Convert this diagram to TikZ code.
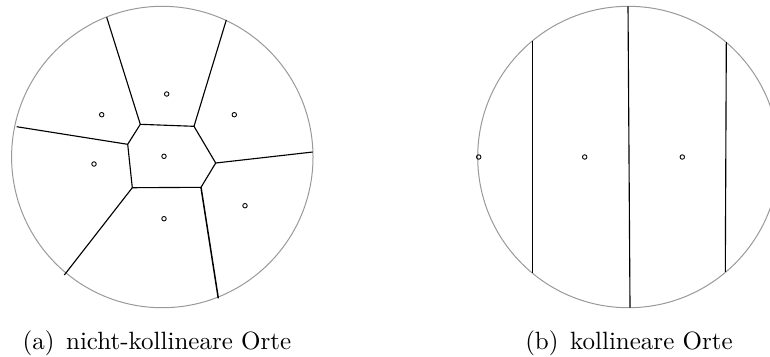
\documentclass[tikz,border=0pt]{standalone}
\begin{document}
\begin{tikzpicture}[x=0.4pt, y=-0.4pt,
	ort/.style={draw, circle, inner sep=0pt, minimum size=1.8pt, line width=0.35pt},
	rand/.style={draw=black!40, line width=0.4pt},
	kante/.style={line width=0.45pt}]
			\useasboundingbox (0,0) rectangle (770,356);
			%Kreise
			\draw[rand] (162.3,157) circle (60.28pt);
			\draw[rand] (628.4,157) circle (60.28pt);
			%Orte links
			\node[ort] (L1) at (166.7,94) {};
			\node[ort] (L2) at (101.7,114.7) {};
			\node[ort] (L3) at (234.3,114.7) {};
			\node[ort] (L4) at (164,156.3) {};
			\node[ort] (L5) at (94,164) {};
			\node[ort] (L6) at (245,205.7) {};
			\node[ort] (L7) at (164,218.7) {};
			%Voronoi-Knoten
			\coordinate (VA) at (140.3,124.3);
			\coordinate (VB) at (194,126.3);
			\coordinate (VC) at (215.7,163);
			\coordinate (VD) at (201,187.3);
			\coordinate (VE) at (132.3,187.7);
			\coordinate (VF) at (127.7,144.3);
			%Randpunkte links
			\coordinate (RA) at (106.7,17.3);
			\coordinate (RB) at (226.3,20);
			\coordinate (RC) at (312.7,152);
			\coordinate (RD) at (218.3,298.3);
			\coordinate (RE) at (64.3,275);
			\coordinate (RF) at (16.7,126.7);
			%Kanten links
			\draw[kante] (VA) -- (VB) -- (VC) -- (VD) -- (VE) -- (VF) -- cycle;
			\draw[kante] (VA) -- (RA);
			\draw[kante] (VB) -- (RB);
			\draw[kante] (VC) -- (RC);
			\draw[kante, line width=0.6pt] (VD) -- (RD);
			\draw[kante] (VE) -- (RE);
			\draw[kante] (VF) -- (RF);
			%Orte rechts
			\node[ort] (K1) at (478.7,157) {};
			\node[ort] (K2) at (584.7,157) {};
			\node[ort] (K3) at (682.3,157) {};
			%Randpunkte rechts
			\coordinate (T1) at (532.7,40.6);
			\coordinate (B1) at (532.7,273.4);
			\coordinate (T2) at (628,6.3);
			\coordinate (B2) at (630,307.7);
			\coordinate (T3) at (726.3,42.2);
			\coordinate (B3) at (725.3,271.8);
			%Kanten rechts
			\draw[kante] (T1) -- (B1);
			\draw[kante] (T2) -- (B2);
			\draw[kante] (T3) -- (B3);
			%Beschriftungen
			\node[anchor=base] (capA) at (157,349) {(a)\hspace{4.6pt}nicht-kollineare Orte};
			\node[anchor=base] (capB) at (629,349) {(b)\hspace{4.6pt}kollineare Orte};
		\end{tikzpicture}
\end{document}
